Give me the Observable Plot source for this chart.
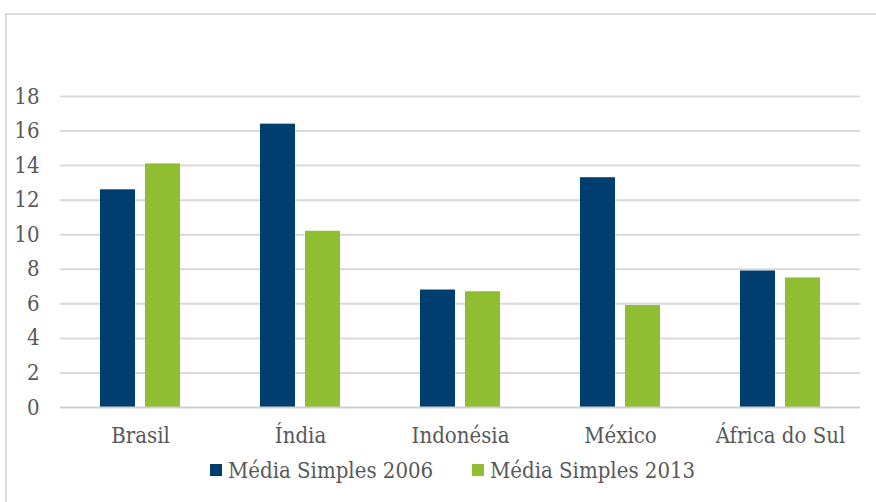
<!DOCTYPE html>
<html>
<head>
<meta charset="utf-8">
<script src="https://cdn.jsdelivr.net/npm/d3@7"></script>
<script src="https://cdn.jsdelivr.net/npm/@observablehq/plot@0.6"></script>
<style>
  html, body { margin: 0; padding: 0; background: #fff; width: 876px; height: 502px; overflow: hidden; }
  #wrap { position: relative; width: 876px; height: 502px; }
  #frame { position: absolute; left: 5px; top: 13px; width: 900px; height: 520px; border: 2px solid #d9d9d9; box-sizing: border-box; }
  #chart { position: absolute; left: 0; top: 0; }
  #legend { position: absolute; left: 0; top: 452px; width: 876px; height: 36px; font-family: "DejaVu Serif Condensed", "DejaVu Serif", serif; font-stretch: condensed; font-size: 22px; color: #595959; }
  .item { position: absolute; top: 0; display: flex; align-items: center; height: 36px; }
  .sw { width: 12px; height: 12px; margin-right: 6px; }
</style>
</head>
<body>
<div id="wrap">
  <div id="frame"></div>
  <div id="chart"></div>
  <div id="legend"></div>
</div>
<script>
const countries = ["Brasil", "Índia", "Indonésia", "México", "África do Sul"];
const series = ["Média Simples 2006", "Média Simples 2013"];
const values2006 = [12.6, 16.4, 6.8, 13.3, 7.9];
const values2013 = [14.1, 10.2, 6.7, 5.9, 7.5];
const colors = ["#003e70", "#8fbe32"];
const yTicks = [0, 2, 4, 6, 8, 10, 12, 14, 16, 18];

const data = [];
countries.forEach((c, i) => {
  data.push({country: c, series: series[0], value: values2006[i]});
  data.push({country: c, series: series[1], value: values2013[i]});
});

const font = "'DejaVu Serif Condensed', 'DejaVu Serif', serif";

const plot = Plot.plot({
  width: 876,
  height: 450,
  marginLeft: 60,
  marginRight: 16,
  marginTop: 96,
  marginBottom: 43,
  style: {fontFamily: font, fontSize: "22px", color: "#595959", background: "transparent", fontStretch: "condensed"},
  fx: {domain: countries, padding: 0, label: null, axis: "bottom", tickSize: 0, tickPadding: 20},
  x: {domain: series, axis: null, paddingInner: 0.217, paddingOuter: 0.848},
  y: {domain: [0, 18], ticks: yTicks, label: null, tickSize: 0, tickPadding: 21, tickFormat: d => String(d)},
  color: {domain: series, range: colors},
  marks: [
    Plot.gridY(yTicks.filter(d => d > 0), {stroke: "#d9d9d9", strokeOpacity: 1, strokeWidth: 2}),
    Plot.barY(data, {fx: "country", x: "series", y: "value", fill: "series"}),
    Plot.ruleY([0], {stroke: "#d0d0d0", strokeWidth: 2})
  ]
});
document.getElementById("chart").appendChild(plot);

const legend = document.getElementById("legend");
const positions = [210, 472];
series.forEach((s, i) => {
  const item = document.createElement("div");
  item.className = "item";
  item.style.left = positions[i] + "px";
  const sw = document.createElement("div");
  sw.className = "sw";
  sw.style.background = colors[i];
  const t = document.createElement("span");
  t.textContent = s;
  item.appendChild(sw);
  item.appendChild(t);
  legend.appendChild(item);
});
</script>
</body>
</html>
